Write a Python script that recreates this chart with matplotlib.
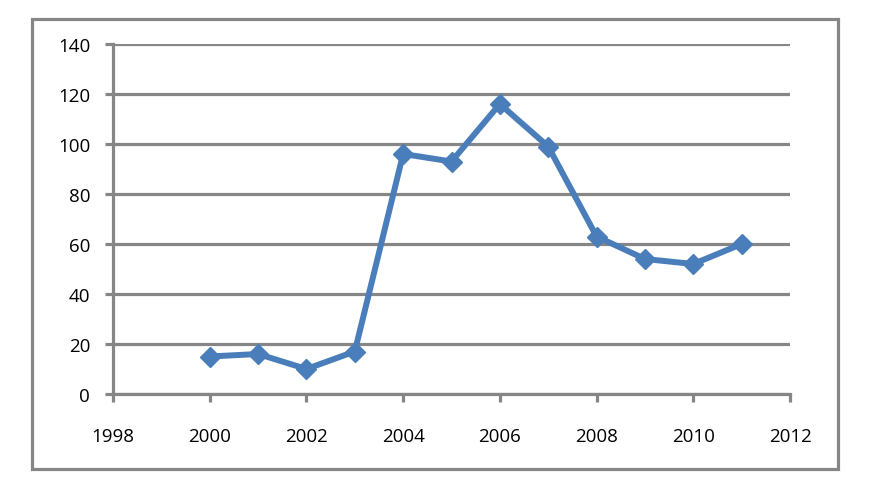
import matplotlib
matplotlib.use("Agg")
import matplotlib.pyplot as plt
from matplotlib.patches import Rectangle

years = [2000, 2001, 2002, 2003, 2004, 2005, 2006, 2007, 2008, 2009, 2010, 2011]
values = [15, 16, 10, 17, 96, 93, 116, 99, 63, 54, 52, 60]
x_ticks = [1998, 2000, 2002, 2004, 2006, 2008, 2010, 2012]
y_ticks = [0, 20, 40, 60, 80, 100, 120, 140]

plt.rcParams['font.family'] = ['Open Sans', 'DejaVu Sans']
grey = '#868686'
blue = '#4A7EBB'

fig = plt.figure(figsize=(8.79, 4.81), dpi=100)
fig.patches.append(Rectangle((32/879, 1-470/481), (838-32)/879, (470-20)/481,
                             transform=fig.transFigure, fill=False,
                             edgecolor=grey, linewidth=2.3))
ax = fig.add_axes([113/879, 1-395/481, (790-113)/879, (395-45)/481])

ax.plot(years, values, color=blue, linewidth=4.3, marker='D', markersize=10.5,
        markerfacecolor=blue, markeredgecolor=blue, zorder=3, clip_on=False)

ax.set_xlim(1998, 2012)
ax.set_ylim(0, 140)
ax.set_xticks(x_ticks)
ax.set_yticks(y_ticks)
ax.yaxis.grid(True, color=grey, linewidth=2.3)
ax.set_axisbelow(True)
for s in ['top', 'right']:
    ax.spines[s].set_visible(False)
for s in ['left', 'bottom']:
    ax.spines[s].set_color(grey)
    ax.spines[s].set_linewidth(2.3)
ax.tick_params(axis='both', direction='out', length=5.5, width=2.3, color=grey,
               labelsize=13.5, labelcolor='black')
ax.tick_params(axis='y', pad=11)
ax.tick_params(axis='x', pad=18)

fig.savefig('out.png', dpi=100)
